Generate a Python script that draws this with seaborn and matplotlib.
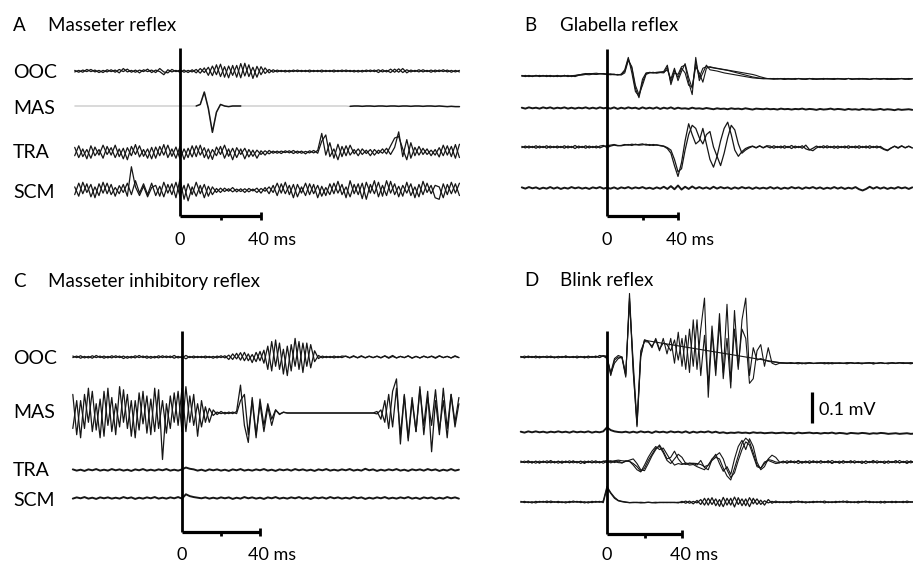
import numpy as np
import pandas as pd
import matplotlib
matplotlib.use("Agg")
import matplotlib.pyplot as plt
import seaborn as sns

# ---------------- data (µV, sampled every STEP ms) ----------------
STEP = 2
CHANNELS = ["OOC", "MAS", "TRA", "SCM"]
TITLES = ["Masseter reflex", "Glabella reflex", "Masseter inhibitory reflex", "Blink reflex"]
LETTERS = ["A", "B", "C", "D"]
SCALE_MS = [0, 20, 40]
SCALE_LABELS = ["0", "40 ms"]
SCALE_UV = 100
SCALE_UV_LABEL = "0.1 mV"

# Panel A (t0 = -52 ms)
A_T0 = -52
A_OOC_1 = [2,-4,3,-2,5,-3,2,-5,4,-2,
           3,-6,8,-3,2,-4,3,-2,6,-5,
           3,-2,-12,4,-3,2,-4,3,-5,4,
           -6,8,-5,12,-15,20,-18,14,-22,18,
           -20,24,-16,20,-24,15,-12,10,-6,4,
           -3,2,-3,2,-2,3,-2,2,-3,2,
           -2,3,-2,2,-3,2,-2,3,-2,2,
           -3,2,-2,3,-2,4,-3,2,-5,6,
           -4,8,-6,3,-2,4,-3,2,-4,3,
           -2,4,-3,2,-3,2]
A_OOC_2 = [-3,2,-4,5,-2,3,-5,2,-3,4,
           -4,5,-2,6,-4,3,-6,4,-2,3,
           -5,8,-3,-6,5,-2,3,-4,2,-3,
           5,-7,10,-14,16,-12,22,-20,16,-14,
           18,-22,25,-18,12,-20,14,-8,5,-4,
           3,-2,2,-3,3,-2,2,-2,3,-2,
           2,-3,2,-2,3,-2,3,-2,2,-3,
           2,-3,3,-2,3,-5,4,-3,6,-4,
           7,-5,4,-3,2,-3,4,-2,3,-3,
           3,-2,3,-4,2,-3]
A_MAS = [0,0,0,0,0,0,0,0,0,0,
         0,0,0,0,0,0,0,0,0,0,
         0,0,0,0,0,0,0,0,0,0,
         0,5,45,-8,-85,-20,5,0,-2,0,
         0,0,0,0,0,0,0,0,0,0,
         0,0,0,0,0,0,0,0,0,0,
         0,0,0,0,0,0,0,0,-1,0,
         0,-1,0,0,-1,0,0,-1,0,0,
         -1,0,0,-1,0,0,-1,0,0,-1,
         0,-1,-2,-1,-2,-2]
A_MAS_SOLID = [(8, 30), (84, 138)]
A_TRA_1 = [15,-18,10,-22,20,-12,8,-20,18,-10,
           22,-15,12,-25,18,-8,20,-14,10,-22,
           16,-12,24,-18,10,-20,18,-24,12,-16,
           20,-10,14,-22,8,-12,18,-20,10,-25,
           14,-8,12,-16,6,-20,4,-10,5,-4,
           3,-5,4,-3,5,-4,3,-6,4,-3,
           5,60,-10,30,-20,25,-15,20,-10,8,
           -12,10,-5,8,-10,6,-4,12,-8,15,
           65,-15,40,-20,15,-10,12,-8,6,-10,
           14,-12,20,-15,24,-18]
A_TRA_2 = [-12,20,-15,8,-20,16,-10,22,-8,14,
           -18,10,-22,14,-12,24,-16,8,-20,15,
           -20,18,-10,22,-14,16,-22,10,-18,20,
           -15,22,-18,10,-24,16,-8,22,-14,12,
           -18,10,-22,8,-14,6,-8,4,-6,3,
           -4,3,-2,4,-5,3,-4,2,-3,5,
           -4,35,55,-15,10,-25,18,-12,22,-6,
           10,-8,6,-12,8,-5,10,-6,20,45,
           50,10,-25,30,-12,18,-8,10,-12,8,
           -16,22,-10,18,-20,25]
A_SCM_1 = [10,-20,25,-8,18,-25,20,-10,22,-15,
           8,-12,18,-20,75,10,-18,12,-22,8,
           15,-20,25,-10,20,-25,35,-30,20,-15,
           25,-12,18,-20,10,-8,6,-5,4,-6,
           3,-5,4,-6,3,-8,5,-4,10,-8,
           22,-10,25,-15,18,-22,10,-18,20,-12,
           15,-20,8,-15,22,-10,18,-25,30,-12,
           20,-28,25,-10,30,-22,15,-18,28,-15,
           12,-20,25,-18,10,-22,28,-8,15,-25,
           -30,20,-15,25,-10,22]
A_SCM_2 = [-15,22,-12,20,-22,10,-18,25,-12,18,
           -20,14,-8,22,-15,30,-10,20,-15,22,
           -18,12,-22,18,-15,25,-20,15,-35,10,
           -20,15,-25,12,-15,5,-8,6,-4,8,
           -6,4,-8,5,-3,6,-10,8,-12,15,
           -18,20,-12,15,-25,18,-10,22,-15,18,
           -25,12,-18,20,-12,28,-15,10,-22,18,
           -15,22,-30,18,-12,25,-20,30,-10,20,
           -22,15,-10,20,-25,18,-15,22,-12,15,
           10,-25,18,-12,20,-18]

# Panel B (t0 = -48 ms)
B_T0 = -48
B_OOC_1 = [1,-2,2,-1,2,-2,1,-1,2,-2,
           1,-2,2,-1,1,-2,2,3,5,4,
           6,5,7,6,5,4,6,3,6,20,
           60,10,-50,-65,-10,10,11,10,12,12,
           15,35,-28,10,5,30,35,-20,-60,60,
           -15,10,35,20,18,16,13,10,8,6,
           4,2,0,-2,-4,-6,-7,-8,-9,-8,
           -9,-8,-10,-9,-8,-10,-9,-11,-8,-9,
           -10,-8,-9,-11,-9,-8,-10,-9,-8,-10,
           -9,-11,-8,-9,-10,-8,-9,-10,-11,-9,
           -8,-10,-9,-8,-10,-11,-9,-8,-10,-9,
           -8]
B_OOC_2 = [-1,2,-2,1,-1,2,-1,2,-2,1,
           -2,1,-1,2,-2,1,3,6,8,7,
           8,9,7,8,6,7,5,4,5,15,
           55,25,-40,-70,-20,8,12,10,11,13,
           12,20,-10,25,-15,15,40,-5,-40,45,
           -5,25,30,28,26,24,22,20,18,15,
           12,9,6,3,0,-3,-5,-7,-8,-9,
           -8,-10,-9,-8,-11,-9,-10,-8,-9,-10,
           -11,-9,-8,-10,-9,-11,-8,-9,-10,-8,
           -9,-10,-8,-11,-9,-8,-10,-9,-11,-8,
           -10,-9,-8,-10,-11,-9,-8,-9,-10,-8,
           -9]
B_OOC_3 = [2,-1,1,-2,2,-1,2,-2,1,-1,
           2,-1,2,-2,1,2,4,5,6,8,
           7,6,8,7,6,5,4,5,3,10,
           50,30,-30,-60,-30,5,10,12,9,11,
           10,28,-20,18,-5,25,10,-30,-35,30,
           10,-20,25,30,27,25,23,21,19,17,
           15,13,11,9,7,5,2,-2,-5,-8,
           -9,-10,-8,-9,-11,-8,-10,-9,-8,-10,
           -9,-8,-11,-9,-10,-8,-9,-10,-11,-8,
           -10,-9,-8,-10,-9,-11,-8,-9,-10,-9,
           -8,-10,-9,-11,-8,-9,-10,-8,-9,-11,
           -9]
B_CH2 = [1,-2,2,-1,1,-2,2,-1,2,-2,
         1,-1,2,-2,1,-2,1,-1,2,-2,
         1,-2,2,-1,1,-2,2,-3,1,-2,
         2,-1,1,-3,2,-2,1,-2,2,-3,
         1,-2,2,-3,1,-2,-1,-3,1,-2,
         -1,-3,0,-2,-4,-1,-3,-2,-4,-1,
         -3,-2,-4,-1,-3,-5,-2,-3,-4,-2,
         -4,-3,-5,-2,-4,-3,-5,-3,-4,-2,
         -5,-3,-4,-6,-3,-5,-4,-2,-5,-3,
         -4,-6,-3,-5,-4,-6,-3,-5,-4,-6,
         -5,-3,-6,-4,-5,-7,-4,-6,-5,-4,
         -6]
B_CH3_1 = [2,-3,3,-2,4,-3,2,-4,3,-2,
           3,-2,4,-3,2,-5,3,-2,4,-3,
           2,-3,3,5,-2,3,6,4,5,8,
           6,9,7,8,10,6,8,5,7,4,
           2,-5,-20,-60,-95,-50,20,75,40,10,
           20,60,10,-40,-65,-30,20,60,80,40,
           -10,-30,-15,-5,0,3,-2,4,-3,2,
           -3,4,-2,3,-4,2,-5,3,-2,4,
           -6,-10,-4,3,-2,4,-3,2,-4,3,
           -2,3,-4,2,-3,4,-2,3,-4,2,
           -3,2,-6,-10,-3,2,-4,3,-2,3,
           -3]
B_CH3_2 = [-2,3,-3,2,-4,3,-2,4,-3,2,
           -3,2,-4,3,-2,5,-3,2,-4,3,
           -2,3,-3,2,4,6,8,5,4,6,
           8,5,9,6,7,9,5,8,6,5,
           3,-2,-10,-40,-80,-70,-10,40,70,60,
           30,10,40,50,0,-30,-60,-20,30,70,
           55,10,-20,-10,-3,2,-3,3,-2,4,
           3,-4,2,-3,4,-2,5,-3,2,-4,
           6,-8,-12,-3,2,-3,4,-2,3,-4,
           2,-3,4,-2,3,-4,2,-3,4,-2,
           3,-2,-8,-12,-4,3,-2,4,-3,2,
           -3]
B_CH4 = [2,-2,3,-1,2,-3,1,-2,3,-2,
         2,-3,1,-2,3,-1,2,-2,1,-3,
         2,-1,3,-2,1,-2,2,-3,2,-1,
         3,-2,2,-1,3,-2,1,-3,2,-2,
         4,-3,6,-4,8,-5,4,-3,5,-2,
         3,-2,2,-3,4,-2,3,-1,2,-3,
         2,-2,3,-1,2,-3,2,-2,1,-2,
         3,-2,2,-3,1,-2,3,-1,2,-3,
         2,-1,3,-2,2,-3,1,-2,3,-2,
         2,-3,1,-2,3,-4,-8,-3,4,-2,
         3,-2,2,-3,1,-2,3,-1,2,-3,
         2]

# Panel C (t0 = -56 ms)
C_T0 = -56
C_OOC_1 = [3,-2,4,-3,2,-4,5,-2,3,-3,
           4,-2,3,-5,2,-3,4,-2,3,-4,
           2,-3,4,-2,3,-2,5,-3,2,-6,
           2,-3,2,-2,3,-2,2,-3,4,-3,
           6,-8,12,-10,15,-12,8,-15,18,-20,
           35,-45,55,-40,25,-60,40,-30,50,-50,
           45,-35,20,-5,3,-2,2,-3,2,-2,
           3,-2,4,-3,2,-2,3,-2,2,-3,
           4,-2,5,-3,2,-2,3,-4,2,-3,
           2,-2,3,-2,4,-2,2,-3,2,-2]
C_OOC_2 = [-2,3,-4,2,-3,4,-2,3,-4,2,
           -3,4,-2,3,-4,2,-3,5,-2,3,
           -4,2,-3,4,-2,3,-4,2,-3,5,
           -2,3,-2,2,-3,2,-4,3,-2,4,
           -8,10,-6,14,-12,10,-18,15,-12,22,
           -40,50,-30,45,-55,35,-45,60,-40,45,
           -30,40,-15,5,-3,2,-2,3,-2,3,
           2,-3,2,-2,4,-3,2,-2,3,-2,
           3,-4,2,-3,2,-2,4,-3,2,-3,
           3,-2,2,-4,3,-2,2,-3,4,-2]
C_MAS_1 = [60,-70,40,-50,80,-60,30,-80,70,-40,
           50,-70,85,-30,60,-75,40,-55,70,-65,
           45,-60,75,-150,30,-50,65,-40,80,-60,
           55,-40,30,-45,20,-30,10,-5,5,-3,
           3,-2,5,90,-40,-95,50,-70,30,-60,
           20,-40,10,-5,3,0,0,0,0,0,
           0,0,0,0,0,0,0,0,0,0,
           0,0,0,0,0,0,0,0,5,-20,
           40,-50,70,110,-100,60,-80,50,-60,75,
           -40,70,-125,40,-70,80,-50,60,-30,50]
C_MAS_2 = [-50,40,-80,60,-30,70,-55,45,-75,80,
           -60,30,-45,75,-50,40,-80,65,-35,55,
           -70,80,-50,40,-65,55,-30,70,-60,85,
           -30,60,-75,40,-30,15,-8,3,-2,2,
           -2,3,-2,40,60,-70,40,-80,45,-40,
           30,-20,10,-3,2,0,0,0,0,0,
           0,0,0,0,0,0,0,0,0,0,
           0,0,0,0,0,0,0,0,-3,10,
           -30,60,-45,80,-70,55,-90,40,-60,85,
           -70,50,-40,75,-55,40,-80,60,-45,30]
C_TRA = [2,-2,1,-3,2,-1,3,-2,1,-2,
         3,-1,2,-2,1,-3,2,-1,3,-2,
         1,-2,2,-1,3,-2,1,-2,2,8,
         4,2,-2,1,-3,2,-1,2,-2,1,
         -3,2,-1,3,-2,1,-2,2,-1,3,
         -2,1,-3,2,-1,2,-2,3,-1,2,
         -2,1,-3,2,-1,3,-2,1,-2,2,
         -1,3,-2,1,-2,4,-1,2,-3,1,
         -2,2,-1,3,-2,1,-3,2,-1,2,
         -2,3,-1,2,-3,1,-2,3,-2,1]
C_SCM = [-2,2,-1,3,-2,1,-3,2,-1,2,
         -2,1,-2,3,-1,2,-3,1,-2,2,
         -1,3,-2,1,-2,2,-1,3,-2,12,
         6,3,1,-1,2,-2,1,-2,2,-1,
         2,-3,1,-2,3,-1,2,-2,1,-3,
         2,-1,3,-2,1,-2,2,-1,3,-2,
         1,-3,2,-1,2,-2,3,-1,2,-2,
         1,-2,3,-1,2,-3,1,-2,2,-1,
         3,-2,1,-2,2,-1,3,-2,1,-3,
         2,-1,2,-3,1,-2,3,-1,2,-2]

# Panel D (t0 = -46 ms)
D_T0 = -46
D_OOC_1 = [2,-2,3,-1,2,-3,1,-2,3,-2,
           2,-1,3,-2,1,-2,2,-3,2,-1,
           3,-2,4,0,-60,-10,0,-3,-65,205,
           -40,-225,0,55,52,50,48,46,44,42,
           40,38,36,34,32,30,28,26,24,22,
           20,18,16,14,12,10,8,6,4,2,
           0,-2,-4,-6,-8,-10,-12,-14,-16,-18,
           -19,-20,-19,-21,-18,-20,-22,-19,-20,-21,
           -19,-20,-18,-22,-20,-19,-21,-20,-18,-20,
           -21,-19,-20,-18,-22,-20,-19,-21,-20,-19,
           -20,-18,-21,-19,-20,-21]
D_OOC_2 = [-2,3,-2,2,-3,2,-1,3,-2,1,
           -3,2,-2,1,-2,3,-1,2,-3,2,
           -2,5,3,-5,-50,-5,5,0,-55,180,
           -20,-210,20,50,48,35,55,20,60,10,
           60,-20,80,-30,70,-50,120,-40,90,190,
           -130,80,-60,110,-50,170,-80,90,-40,120,
           190,-60,30,-10,-5,-10,-14,-16,-17,-18,
           -19,-21,-18,-20,-22,-19,-20,-18,-21,-20,
           -19,-22,-20,-18,-21,-19,-20,-22,-19,-20,
           -18,-21,-20,-19,-22,-20,-18,-21,-19,-20,
           -21,-19,-18,-20,-22,-19]
D_OOC_3 = [1,-3,2,-2,3,-1,2,-2,1,-3,
           2,-2,3,-1,2,-3,1,-2,3,-1,
           2,-1,4,3,-55,-20,-5,0,-60,190,
           -50,-220,5,55,50,30,60,25,45,40,
           20,55,-10,60,-40,90,-30,120,-60,70,
           -90,100,-40,140,-70,60,-100,150,-30,90,
           60,-85,-70,20,40,-30,30,-20,-25,-20,
           -20,-19,-21,-20,-18,-22,-19,-20,-21,-19,
           -20,-18,-22,-20,-19,-21,-20,-18,-19,-21,
           -20,-22,-19,-20,-18,-21,-19,-20,-22,-18,
           -20,-19,-21,-20,-18,-20]
D_CH2 = [1,-2,2,-1,2,-1,1,-2,1,-1,
         2,-1,1,-2,2,-1,1,-1,2,-2,
         1,-1,2,15,6,2,0,-1,1,-2,
         1,-2,2,-1,1,-3,2,-1,1,-2,
         2,-1,1,-2,2,-3,1,-2,1,-1,
         2,-2,1,-3,-1,-4,-2,-3,-1,-3,
         -2,-4,-1,-3,-2,-4,-3,-2,-4,-3,
         -2,-4,-3,-5,-2,-4,-3,-2,-4,-3,
         -5,-3,-4,-2,-5,-3,-4,-6,-3,-4,
         -5,-3,-4,-6,-4,-5,-3,-4,-6,-5,
         -4,-6,-5,-4,-6,-5]
D_CH3_1 = [3,-2,4,-3,2,-4,3,-2,5,-3,
           2,-4,3,-2,4,-3,2,-5,3,-2,
           4,-3,2,5,-3,2,-2,-3,4,2,
           -10,-25,-32,-10,15,35,50,40,45,25,
           5,-10,-5,-8,-3,-6,-4,-5,-8,-15,
           -10,5,15,10,-20,-45,-58,-20,20,60,
           77,65,30,-10,-20,0,5,0,-5,-3,
           3,-4,2,-3,5,-2,3,-4,2,-3,
           4,-2,3,-5,2,-3,4,-2,3,-3,
           2,-4,3,-2,5,-3,2,-4,3,-2,
           4,-3,2,-5,3,-2]
D_CH3_2 = [-2,3,-3,2,-4,3,-2,4,-3,2,
           -4,3,-2,4,-3,2,-5,3,-2,4,
           -3,2,-4,3,4,-2,3,-3,2,6,
           10,-5,-25,-28,-5,20,40,55,35,10,
           15,35,10,-5,-8,-3,-5,-10,5,-18,
           -25,8,25,-5,-30,-15,-40,10,50,70,
           40,75,50,0,-25,-15,10,22,15,0,
           -3,4,-2,3,-5,2,-3,4,-2,3,
           -4,2,-3,5,-2,3,-4,2,-3,4,
           -2,3,-5,2,-3,4,-2,3,-4,2,
           -3,5,-2,4,-3,2]
D_CH3_3 = [1,-2,2,-3,3,-2,2,-3,1,-2,
           3,-2,2,-3,2,-1,3,-2,2,-3,
           1,-2,3,-2,2,4,6,4,3,2,
           -5,-15,-30,-20,5,25,45,50,30,5,
           -5,10,25,15,-5,-10,-8,-15,-20,-25,
           -10,10,20,30,10,-25,-50,-35,5,40,
           65,55,20,-15,-20,-5,8,5,0,-2,
           2,-3,4,-2,3,-4,2,-3,4,-2,
           3,-2,4,-3,2,-4,3,-2,4,-3,
           2,-4,3,-2,3,-3,2,-4,3,-2,
           4,-3,2,-2,3,-3]
D_CH4_1 = [2,-2,1,-3,2,-1,2,-2,3,-1,
           2,-2,1,-2,3,-1,2,-3,1,-2,
           2,-1,3,50,30,15,5,2,0,-2,
           -1,-2,-1,-2,-1,-2,-1,-2,-1,-2,
           -1,-2,-1,-2,3,-4,2,-3,8,-10,
           12,-8,10,-14,15,-10,12,-16,14,-12,
           10,-15,12,-8,6,-10,8,-4,3,-2,
           1,-2,2,-1,3,-2,1,-2,2,-1,
           2,-3,1,-2,2,-1,3,-2,1,-2,
           2,-1,3,-2,1,-2,2,-3,1,-2,
           2,-1,2,-2,1,-2]
D_CH4_2 = [-1,2,-2,1,-3,2,-1,3,-2,1,
           -2,1,-3,2,-1,2,-2,1,-3,2,
           -1,2,-2,45,28,12,4,1,-1,-2,
           -2,-1,-3,-2,-1,-2,-3,-1,-2,-1,
           -2,-1,-3,2,-4,3,-6,5,-8,12,
           -10,14,-12,8,-15,12,-10,16,-8,10,
           -12,14,-6,10,-8,4,-3,2,-2,1,
           -2,1,-3,2,-1,2,-3,1,-2,2,
           -1,3,-2,1,-2,2,-1,3,-2,1,
           -3,2,-1,2,-2,1,-3,2,-1,2,
           -2,1,-2,3,-1,2]

# ---------------- layout / style ----------------
W, H = 913, 562
PX_PER_UV = 0.31
INK = "#161616"

sns.set_theme(style="white")
plt.rcParams["font.family"] = ["Lato", "DejaVu Sans"]

fig = plt.figure(figsize=(W / 100, H / 100), dpi=100)
fig.patch.set_facecolor("white")


def ftext(px, py, s, **kw):
    fig.text(px / W, 1 - py / H, s, color="black", **kw)


class Panel:
    def __init__(self, box, xs, pxms):
        x0, y0, x1, y1 = box
        self.y0 = y0
        self.xs = xs
        self.pxms = pxms
        self.ax = fig.add_axes([x0 / W, 1 - y1 / H, (x1 - x0) / W, (y1 - y0) / H])
        self.ax.set_xlim((x0 - xs) / pxms, (x1 - xs) / pxms)
        self.ax.set_ylim(-(y1 - y0) / PX_PER_UV, 0)
        self.ax.axis("off")

    def v(self, py):
        return -(py - self.y0) / PX_PER_UV

    def t(self, px):
        return (px - self.xs) / self.pxms

    def traces(self, t0, sweeps, row_py, lw=0.9, color=INK, ranges=None):
        frames = []
        uid = 0
        for vals in sweeps:
            vals = np.asarray(vals, float)
            tt = t0 + STEP * np.arange(len(vals))
            segs = [(tt.min(), tt.max())] if ranges is None else ranges
            for a, b in segs:
                m = (tt >= a) & (tt <= b)
                frames.append(pd.DataFrame({"t": tt[m], "v": vals[m] + self.v(row_py), "sweep": uid}))
                uid += 1
        df = pd.concat(frames, ignore_index=True)
        sns.lineplot(data=df, x="t", y="v", units="sweep", estimator=None, sort=False,
                     color=color, lw=lw, ax=self.ax, legend=False, clip_on=False)
        self.ax.set_xlabel("")
        self.ax.set_ylabel("")

    def stim_and_bar(self, top_py, bar_py, label_dy):
        ax = self.ax
        vb = self.v(bar_py)
        tick = 4 / PX_PER_UV
        ax.vlines(0, vb, self.v(top_py), color="black", lw=2.0, clip_on=False, zorder=5)
        ax.hlines(vb, SCALE_MS[0], SCALE_MS[-1], color="black", lw=2.3, clip_on=False, zorder=5)
        ax.vlines(SCALE_MS[1], vb, vb - tick, color="black", lw=2.0, clip_on=False)
        ax.vlines(SCALE_MS[2], vb + tick, vb - tick, color="black", lw=2.0, clip_on=False)
        ax.text(SCALE_MS[0], self.v(bar_py + label_dy), SCALE_LABELS[0], ha="center", va="baseline",
                fontsize=13, color="black")
        ax.annotate(SCALE_LABELS[1], xy=(SCALE_MS[2], self.v(bar_py + label_dy)), xytext=(-9, 0),
                    textcoords="offset points", ha="left", va="baseline", fontsize=13, color="black")


TITLE_FS = 13.5
LABEL_FS = 14

# ---- Panel A ----
pA = Panel((60, 38, 465, 252), 180, 81 / 40)
rowsA = [71, 106, 152, 190]
pA.traces(A_T0, [A_OOC_1, A_OOC_2], rowsA[0], lw=0.9)
pA.traces(A_T0, [A_MAS], rowsA[1], lw=0.6, color="#a8a8a8")
pA.traces(A_T0, [A_MAS], rowsA[1], lw=1.1, ranges=A_MAS_SOLID)
pA.traces(A_T0, [A_TRA_1, A_TRA_2], rowsA[2], lw=0.9)
pA.traces(A_T0, [A_SCM_1, A_SCM_2], rowsA[3], lw=0.9)
pA.stim_and_bar(48, 216, 29)
ftext(13, 31, LETTERS[0], fontsize=TITLE_FS)
ftext(48, 31, TITLES[0], fontsize=TITLE_FS)
for name, ry in zip(CHANNELS, [71, 107, 151, 191]):
    ftext(13, ry + 6.5, name, fontsize=LABEL_FS)

# ---- Panel B ----
pB = Panel((515, 38, 913, 252), 607, 71 / 40)
rowsB = [76, 108, 147, 188]
pB.traces(B_T0, [B_OOC_1, B_OOC_2, B_OOC_3], rowsB[0], lw=0.8)
pB.traces(B_T0, [B_CH2], rowsB[1], lw=1.4)
pB.traces(B_T0, [B_CH3_1, B_CH3_2], rowsB[2], lw=0.9)
pB.traces(B_T0, [B_CH4], rowsB[3], lw=1.4)
pB.stim_and_bar(49, 216, 29)
ftext(524, 31, LETTERS[1], fontsize=TITLE_FS)
ftext(560, 31, TITLES[1], fontsize=TITLE_FS)

# ---- Panel C ----
pC = Panel((60, 320, 465, 562), 182, 78 / 40)
rowsC = [357, 413, 470, 498]
pC.traces(C_T0, [C_OOC_1, C_OOC_2], rowsC[0], lw=0.9)
pC.traces(C_T0, [C_MAS_1, C_MAS_2], rowsC[1], lw=0.9)
pC.traces(C_T0, [C_TRA], rowsC[2], lw=1.4)
pC.traces(C_T0, [C_SCM], rowsC[3], lw=1.4)
pC.stim_and_bar(331, 532, 28)
ftext(13, 287, LETTERS[2], fontsize=TITLE_FS)
ftext(48, 287, TITLES[2], fontsize=TITLE_FS)
for name, ry in zip(CHANNELS, [358, 412, 470, 500]):
    ftext(13, ry + 6.5, name, fontsize=LABEL_FS)

# ---- Panel D ----
pD = Panel((515, 290, 913, 562), 607, 75 / 40)
rowsD = [357, 432, 462, 502]
pD.traces(D_T0, [D_OOC_1, D_OOC_2, D_OOC_3], rowsD[0], lw=0.8)
pD.traces(D_T0, [D_CH2], rowsD[1], lw=1.4)
pD.traces(D_T0, [D_CH3_1, D_CH3_2, D_CH3_3], rowsD[2], lw=0.8)
pD.traces(D_T0, [D_CH4_1, D_CH4_2], rowsD[3], lw=0.9)
pD.stim_and_bar(331, 534, 26)
ftext(524, 286, LETTERS[3], fontsize=TITLE_FS)
ftext(560, 286, TITLES[3], fontsize=TITLE_FS)
# 0.1 mV calibration bar
tb = pD.t(812)
pD.ax.vlines(tb, pD.v(423), pD.v(423) + SCALE_UV, color="black", lw=2.3, clip_on=False)
ftext(819, 415, SCALE_UV_LABEL, fontsize=13)

fig.savefig("out.png", dpi=100, facecolor="white")
